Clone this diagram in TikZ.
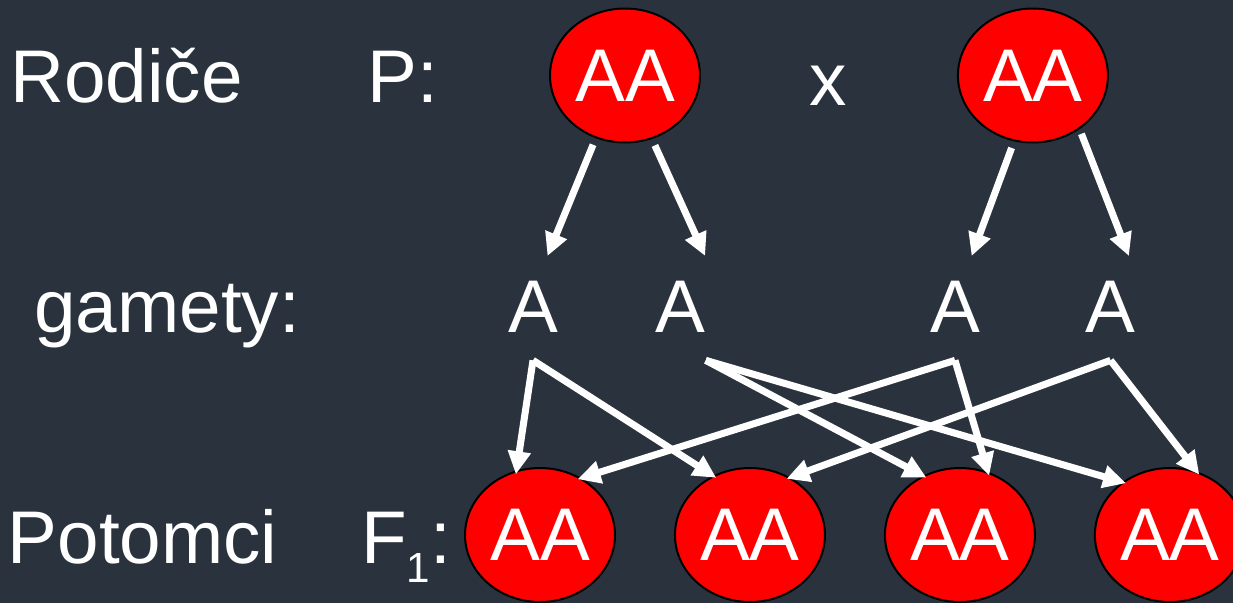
\documentclass[tikz,border=0pt]{standalone}
\usepackage{fontspec}
\setmainfont{Liberation Sans}
\usepackage{xcolor}
\usepackage{tikz}
\usetikzlibrary{arrows.meta,positioning,shapes.geometric}
\definecolor{slate}{RGB}{42,51,61}

\begin{document}
\begin{tikzpicture}[x=0.02cm, y=-0.02cm,
    txt/.style={text=white, inner sep=0pt, 
        font=\fontsize{42.5}{51}\selectfont},
    parent/.style={txt, ellipse, draw=black, line width=0.04cm, 
        fill=red, minimum width=3cm, minimum height=2.68cm},
    gamete/.style={txt, inner xsep=0pt, inner ysep=0.56cm},
    arr/.style={-{Triangle[length=0.46cm, width=0.44cm]}, 
        line width=0.14cm, white, shorten >=-0.08cm},
]

% ── Background ──
\path[use as bounding box, fill=slate] (0,0) rectangle (1233,603);

% ── Row labels (left) ──
\node[txt, anchor=base west] (rodice) at (10,102) {Rodiče};
\node[txt, anchor=base west] (ptag) at (367.5,102) {P:};
\node[txt, anchor=base west] (gamety) at (34,332) {gamety:};
\node[txt, anchor=base west] (potomci) at (7.5,563) {Potomci};
\node[txt, anchor=base west] (ftag) at (361,563) 
    {F\raisebox{-0.38cm}{\fontsize{24}{24}\selectfont 1}:};

% ── Parents ──
\node[parent] (p1) at (625,75.5) {AA};
\node[parent, right=5.12cm of p1] (p2) {AA};
\node[txt, anchor=base] (cross) at (828,105) {x};

% ── Gametes ──
\node[gamete, anchor=base] (g1) at (533,332) {A};
\node[gamete, base right=1.94cm of g1] (g2) {A};
\node[gamete, anchor=base] (g3) at (955,332) {A};
\node[gamete, base right=2.1cm of g3] (g4) {A};

% ── Offspring ──
\node[parent] (f1) at (540,535) {AA};
\node[parent, right=1.16cm of f1] (f2) {AA};
\node[parent, right=1.16cm of f2] (f3) {AA};
\node[parent, right=1.16cm of f3] (f4) {AA};

% ── Arrows: parents to gametes ──
\draw[arr, shorten <=0.14cm] (p1.245) -- ([xshift=0.32cm]g1.north);
\draw[arr, shorten <=0.14cm] (p1.293) -- ([xshift=0.46cm]g2.north);
\draw[arr, shorten <=0.14cm] (p2.254) -- ([xshift=0.36cm]g3.north);
\draw[arr, shorten <=0.1cm] (p2.311) -- ([xshift=0.34cm]g4.north);

% ── Arrows: gametes to offspring ──
\draw[arr] (g1.south) -- (f1.110);
\draw[arr] (g1.south) -- (f2.122);
\draw[arr] (g2.south east) -- (f3.122);
\draw[arr] (g2.south east) -- (f4.132);
\draw[arr] (g3.south) -- (f1.54);
\draw[arr] (g3.south) -- (f3.66);
\draw[arr] (g4.south) -- (f2.55);
\draw[arr] (g4.south) -- (f4.67);

\end{tikzpicture}
\end{document}
